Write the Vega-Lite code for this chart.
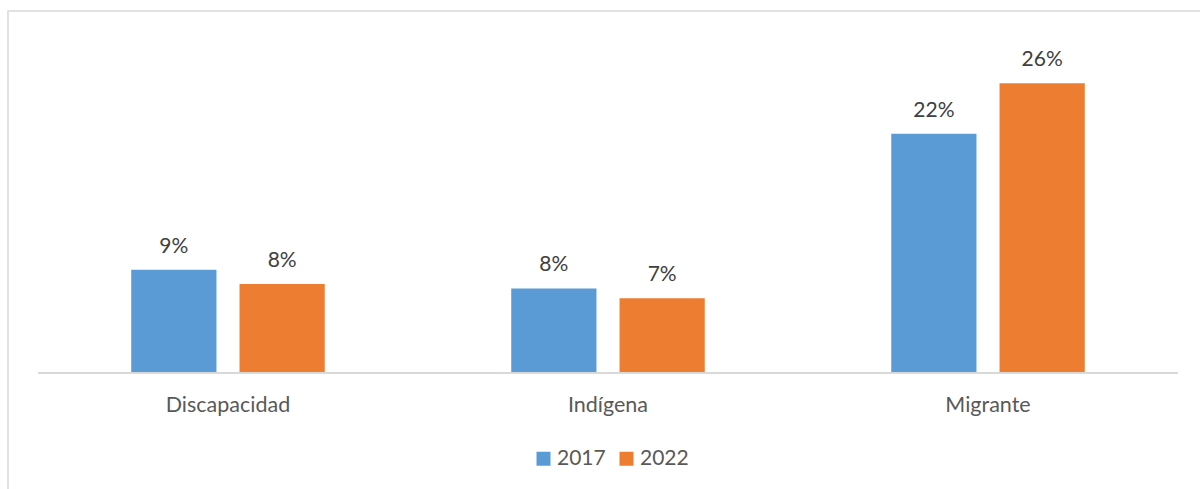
{
  "$schema": "https://vega.github.io/schema/vega-lite/v6.json",
  "autosize": {"type": "none"},
  "padding": {"left": 8, "top": 11, "right": -8, "bottom": -12},
  "width": 1200,
  "height": 490,
  "config": {
    "view": {"stroke": "#d9d9d9", "strokeWidth": 1.5},
    "font": "Lato"
  },
  "datasets": {
    "bars": [
      {"grupo": "Discapacidad", "anio": "2017", "valor": 0.094},
      {"grupo": "Discapacidad", "anio": "2022", "valor": 0.081},
      {"grupo": "Indígena", "anio": "2017", "valor": 0.077},
      {"grupo": "Indígena", "anio": "2022", "valor": 0.068},
      {"grupo": "Migrante", "anio": "2017", "valor": 0.218},
      {"grupo": "Migrante", "anio": "2022", "valor": 0.264}
    ],
    "base": [{"inicio": "Discapacidad", "fin": "Migrante"}]
  },
  "layer": [
    {
      "data": {"name": "bars"},
      "mark": {"type": "bar"},
      "encoding": {
        "x": {
          "field": "grupo", "type": "nominal", "sort": ["Discapacidad", "Indígena", "Migrante"],
          "scale": {"domain": ["Discapacidad", "Indígena", "Migrante"], "paddingInner": 0, "paddingOuter": 0.0789},
          "axis": {"orient": "bottom", "offset": -128, "domain": false, "ticks": false, "labelPadding": 21, "labelAngle": 0, "labelFontSize": 21.5, "labelColor": "#595959", "labelFont": "Lato", "title": null}
        },
        "xOffset": {
          "field": "anio", "type": "nominal",
          "scale": {"domain": ["2017", "2022"], "paddingInner": 0.213, "paddingOuter": 0.861}
        },
        "y": {
          "field": "valor", "type": "quantitative",
          "scale": {"domain": [-0.1166, 0.3297], "nice": false, "zero": false},
          "axis": null
        },
        "y2": {"datum": 0},
        "color": {
          "field": "anio", "type": "nominal",
          "scale": {"domain": ["2017", "2022"], "range": ["#5b9bd5", "#ed7d31"]},
          "legend": {
            "orient": "none", "direction": "horizontal", "legendX": 525, "legendY": 437,
            "title": null, "symbolType": "square", "symbolSize": 196, "symbolStrokeWidth": 0,
            "labelFontSize": 21, "labelColor": "#595959", "labelFont": "Lato", "columnPadding": 10, "labelOffset": 3, "padding": 0
          }
        }
      }
    },
    {
      "data": {"name": "bars"},
      "mark": {"type": "text", "baseline": "bottom", "dy": -13, "fontSize": 21, "color": "#404040", "font": "Lato"},
      "encoding": {
        "x": {"field": "grupo", "type": "nominal"},
        "xOffset": {"field": "anio", "type": "nominal"},
        "y": {"field": "valor", "type": "quantitative"},
        "text": {"field": "valor", "type": "quantitative", "format": ".0%"}
      }
    },
    {
      "data": {"name": "base"},
      "mark": {"type": "rule", "color": "#d9d9d9", "strokeWidth": 2},
      "encoding": {
        "x": {"field": "inicio", "type": "nominal", "bandPosition": 0},
        "x2": {"field": "fin", "bandPosition": 1},
        "y": {"datum": 0}
      }
    }
  ]
}
